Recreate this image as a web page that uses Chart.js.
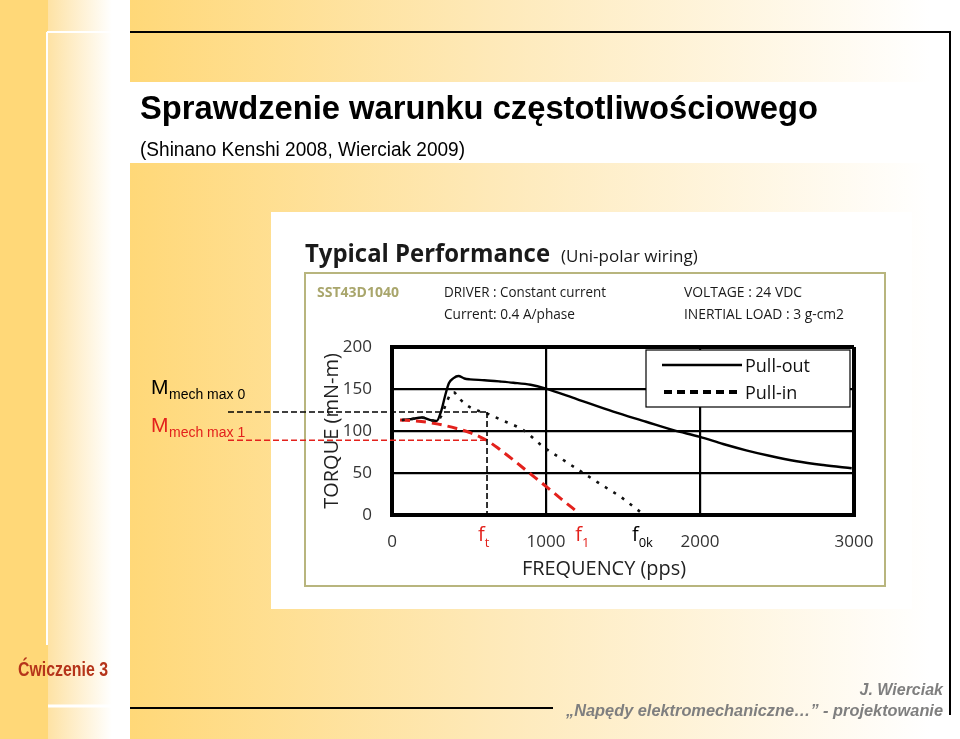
<!DOCTYPE html>
<html>
<head>
<meta charset="utf-8">
<script src="https://cdn.jsdelivr.net/npm/chart.js@4"></script>
<style>
  html, body { margin: 0; padding: 0; background: #fff; }
  #wrap { width: 960px; height: 739px; position: relative; }
</style>
</head>
<body>
<div id="wrap"><canvas id="chart"></canvas></div>
<script>
// Dane (moment w mN-m, częstotliwość w pps)
var pullOutFreq = [63, 120, 193, 250, 290, 320, 345, 370, 400, 431, 470, 506, 600, 700, 788, 900, 994, 1200, 1437, 1650, 1827, 2000, 2150, 2300, 2450, 2628, 2800, 2985];
var pullOutTorque = [113, 114, 116, 113, 112, 124, 142, 157, 163, 165.5, 162.5, 161.5, 160.5, 159, 157.5, 155, 150.8, 138, 123, 111, 101, 93, 84.5, 77, 70.5, 64, 59.5, 55.6];

var pullInFreq = [63, 120, 193, 250, 290, 320, 350, 380, 400, 440, 500, 560, 615, 700, 853, 983, 1100, 1242, 1360, 1481, 1610];
var pullInTorque = [113, 114, 116, 113, 112, 118, 132, 144, 146, 138, 129, 124, 121, 114, 101, 81, 67, 50, 36, 22, 4];

var loadFreq = [52, 150, 279, 420, 500, 571, 615, 700, 788, 880, 983, 1100, 1210];
var loadTorque = [113, 112, 109, 103, 98.5, 93, 89, 78, 65.5, 51.8, 36.6, 19, 2.7];

var xTicks = [0, 1000, 2000, 3000];
var yTicks = [0, 50, 100, 150, 200];

// punkty charakterystyczne
var fT = 617, f1 = 1210, f0k = 1610;
var mMax0 = 122.6, mMax1 = 89;

var RED = "#E3211C";
var FONT = "'Open Sans', 'Noto Sans', sans-serif";
var ARIAL = "'Liberation Sans', Arial, sans-serif";

function pts(xs, ys) {
  return xs.map(function (x, i) { return { x: x, y: ys[i] }; });
}

function txt(ctx, s, x, y, font, color, align, maxW) {
  ctx.font = font;
  ctx.fillStyle = color;
  ctx.textAlign = align || "left";
  ctx.textBaseline = "alphabetic";
  if (maxW) ctx.fillText(s, x, y, maxW);
  else ctx.fillText(s, x, y);
}

function line(ctx, x1, y1, x2, y2, color, w, dash) {
  ctx.save();
  ctx.beginPath();
  ctx.strokeStyle = color;
  ctx.lineWidth = w;
  ctx.setLineDash(dash || []);
  ctx.moveTo(x1, y1);
  ctx.lineTo(x2, y2);
  ctx.stroke();
  ctx.restore();
}

// tło slajdu i obrazek z kartą katalogową
var slidePlugin = {
  id: "slide",
  beforeDraw: function (chart) {
    var ctx = chart.ctx;
    ctx.save();
    ctx.fillStyle = "#fff";
    ctx.fillRect(0, 0, 960, 739);

    ctx.fillStyle = "#FFD878";
    ctx.fillRect(0, 0, 48, 739);
    var g1 = ctx.createLinearGradient(48, 0, 112, 0);
    g1.addColorStop(0, "#FEE2A4");
    g1.addColorStop(1, "#FFFFFF");
    ctx.fillStyle = g1;
    ctx.fillRect(48, 0, 82, 739);

    var g2 = ctx.createLinearGradient(130, 0, 930, 0);
    g2.addColorStop(0, "#FFD878");
    g2.addColorStop(0.45, "#FEE9B8");
    g2.addColorStop(1, "#FFFFFF");
    ctx.fillStyle = g2;
    ctx.fillRect(130, 0, 830, 739);

    ctx.fillStyle = "#fff";
    ctx.fillRect(130, 82, 830, 81);
    ctx.fillRect(271, 212, 641, 397);
    ctx.restore();

    // linie ramki
    line(ctx, 130, 32, 951, 32, "#000", 2);
    line(ctx, 950, 32, 950, 715, "#000", 2);
    line(ctx, 130, 708, 553, 708, "#000", 2);
    line(ctx, 47, 32, 128, 32, "#fff", 2);
    line(ctx, 47, 32, 47, 645, "#fff", 2);
    line(ctx, 48, 706, 128, 706, "#fff", 3);

    // teksty slajdu
    txt(ctx, "Sprawdzenie warunku częstotliwościowego", 140, 119, "bold 34px " + ARIAL, "#000", "left", 678);
    txt(ctx, "(Shinano Kenshi 2008, Wierciak 2009)", 140, 156, "20px " + ARIAL, "#000", "left", 325);
    txt(ctx, "Ćwiczenie 3", 18, 676, "bold 21px " + ARIAL, "#B5341A", "left", 90);
    txt(ctx, "J. Wierciak", 943, 695, "italic bold 16px " + ARIAL, "#7F7F7F", "right", 85);
    txt(ctx, "„Napędy elektromechaniczne…” - projektowanie", 943, 716, "italic bold 17px " + ARIAL, "#7F7F7F", "right", 377);

    // nagłówek karty katalogowej
    ctx.save();
    ctx.strokeStyle = "#B8B57E";
    ctx.lineWidth = 2;
    ctx.strokeRect(305, 273, 580, 313);
    ctx.restore();
    txt(ctx, "Typical Performance", 305, 262, "bold 25px " + FONT, "#1a1a1a", "left", 245);
    txt(ctx, "(Uni-polar wiring)", 561, 262, "17px " + FONT, "#1a1a1a", "left", 138);
    txt(ctx, "SST43D1040", 317, 297, "bold 14px " + FONT, "#A9A66C", "left", 88);
    txt(ctx, "DRIVER : Constant current", 444, 297, "15px " + FONT, "#1a1a1a", "left", 162);
    txt(ctx, "Current: 0.4 A/phase", 444, 319, "15px " + FONT, "#1a1a1a", "left", 131);
    txt(ctx, "VOLTAGE : 24 VDC", 684, 297, "15px " + FONT, "#1a1a1a", "left", 118);
    txt(ctx, "INERTIAL LOAD : 3 g-cm2", 684, 319, "15px " + FONT, "#1a1a1a", "left", 160);
    txt(ctx, "FREQUENCY (pps)", 522, 575, "20px " + FONT, "#222", "left", 164);
  },
  afterDatasetsDraw: function (chart) {
    var ctx = chart.ctx;
    var xs = chart.scales.x, ys = chart.scales.y;
    var xt = xs.getPixelForValue(fT);
    var y0 = ys.getPixelForValue(mMax0);
    var y1 = ys.getPixelForValue(mMax1);
    var yb = ys.getPixelForValue(0);

    line(ctx, 228, y0, xt, y0, "#000", 1.6, [6, 3]);
    line(ctx, 228, y1, xt, y1, RED, 1.6, [6, 3]);
    line(ctx, xt, y0, xt, yb, "#000", 1.6, [6, 3]);

    // legenda
    ctx.save();
    ctx.fillStyle = "#fff";
    ctx.fillRect(646, 350, 204, 57);
    ctx.strokeStyle = "#000";
    ctx.lineWidth = 1.2;
    ctx.strokeRect(646, 350, 204, 57);
    ctx.restore();
    line(ctx, 662, 365, 742, 365, "#000", 2.5);
    line(ctx, 664, 392, 742, 392, "#000", 4, [8, 5]);
    txt(ctx, "Pull-out", 745, 372, "18px " + FONT, "#111", "left", 66);
    txt(ctx, "Pull-in", 745, 399, "18px " + FONT, "#111", "left", 56);

    // oznaczenia częstotliwości
    function fLabel(sub, f, dx, color) {
      var x = xs.getPixelForValue(f) + dx;
      txt(ctx, "f", x, 541, "20px " + FONT, color);
      ctx.font = "20px " + FONT;
      var w = ctx.measureText("f").width;
      txt(ctx, sub, x + w, 547, "13px " + FONT, color);
    }
    fLabel("t", fT, -9, RED);
    fLabel("1", f1, -3, RED);
    fLabel("0k", f0k, -8, "#000");

    // oznaczenia momentów
    function mLabel(sub, y, color) {
      txt(ctx, "M", 151, y, "21px " + ARIAL, color);
      txt(ctx, sub, 169, y + 5, "14px " + ARIAL, color, "left", 80);
    }
    mLabel("mech max 0", 394, "#000");
    mLabel("mech max 1", 432, RED);
  }
};

function gridWidth(max) {
  return function (c) {
    return c.tick && (c.tick.value === 0 || c.tick.value === max) ? 4 : 2.2;
  };
}

function plain(v) { return String(v); }

new Chart(document.getElementById("chart").getContext("2d"), {
  type: "line",
  data: {
    datasets: [
      {
        label: "Pull-in",
        data: pts(pullInFreq, pullInTorque),
        borderColor: "#111",
        borderWidth: 2.6,
        borderDash: [3, 7],
        pointRadius: 0,
        fill: false,
        cubicInterpolationMode: "monotone",
      },
      {
        label: "Load",
        data: pts(loadFreq, loadTorque),
        borderColor: RED,
        borderWidth: 3,
        borderDash: [10, 6],
        pointRadius: 0,
        fill: false,
        cubicInterpolationMode: "monotone",
      },
      {
        label: "Pull-out",
        data: pts(pullOutFreq, pullOutTorque),
        borderColor: "#000",
        borderWidth: 2.4,
        pointRadius: 0,
        fill: false,
        cubicInterpolationMode: "monotone",
      },
    ],
  },
  options: {
    responsive: true,
    maintainAspectRatio: false,
    animation: false,
    layout: { padding: { left: 320, right: 106, top: 347, bottom: 184 } },
    scales: {
      x: {
        type: "linear",
        min: 0,
        max: 3000,
        afterBuildTicks: function (s) { s.ticks = xTicks.map(function (v) { return { value: v }; }); },
        afterFit: function (s) { s.height = 40; },
        grid: { color: "#000", lineWidth: gridWidth(3000), drawTicks: false },
        border: { display: true, color: "#000", width: 4 },
        ticks: { color: "#333", padding: 17, font: { size: 17, family: FONT }, callback: plain },
      },
      y: {
        type: "linear",
        min: 0,
        max: 200,
        afterBuildTicks: function (s) { s.ticks = yTicks.map(function (v) { return { value: v }; }); },
        afterFit: function (s) { s.width = 72; },
        grid: { color: "#000", lineWidth: gridWidth(200), drawTicks: false },
        border: { display: true, color: "#000", width: 4 },
        ticks: { color: "#333", padding: 20, font: { size: 17, family: FONT }, callback: plain },
        title: { display: true, text: "TORQUE (mN-m)", color: "#222", padding: 0, font: { size: 20, family: FONT } },
      },
    },
    plugins: {
      legend: { display: false },
      tooltip: { enabled: false },
    },
  },
  plugins: [slidePlugin],
});
</script>
</body>
</html>
